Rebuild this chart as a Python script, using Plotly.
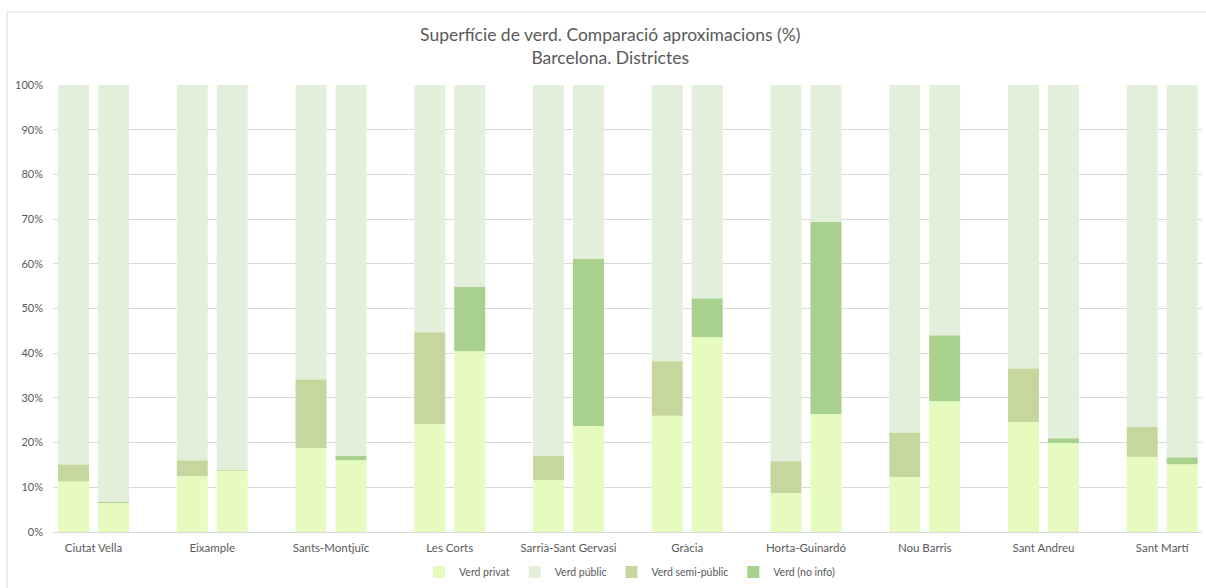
import plotly.graph_objects as go

districts = ["Ciutat Vella", "Eixample", "Sants-Montjuïc", "Les Corts", "Sarrià-Sant Gervasi",
             "Gràcia", "Horta-Guinardó", "Nou Barris", "Sant Andreu", "Sant Martí"]

# Aproximació 1 (privat + semi-públic + públic), %
privat_1 = [11.3, 12.5, 18.8, 24.1, 11.6, 26.0, 8.7, 12.3, 24.6, 16.8]
semi_1 = [3.8, 3.5, 15.3, 20.6, 5.4, 12.2, 7.1, 9.9, 12.0, 6.7]
public_1 = [84.9, 84.0, 65.9, 55.3, 83.0, 61.8, 84.2, 77.8, 63.4, 76.5]

# Aproximació 2 (privat + no info + públic), %
privat_2 = [6.5, 13.7, 16.0, 40.4, 23.7, 43.6, 26.4, 29.2, 19.9, 15.1]
noinfo_2 = [0.2, 0.1, 1.0, 14.4, 37.4, 8.7, 43.0, 14.8, 1.1, 1.6]
public_2 = [93.3, 86.2, 83.0, 45.2, 38.9, 47.7, 30.6, 56.0, 79.0, 83.3]

y_ticks = [0, 10, 20, 30, 40, 50, 60, 70, 80, 90, 100]

C_PRIVAT = "#E6FBBE"
C_PUBLIC = "#E2EFDA"
C_SEMI = "#C6D79E"
C_NOINFO = "#A9D18E"

FONT = "Lato"
TXT = "#595959"


def add(a, b):
    return [x + y for x, y in zip(a, b)]


zero = [0.0] * len(districts)
# stacking bases (bottom: privat, middle: semi / no info, top: públic)
base_semi_1 = privat_1
base_public_1 = add(privat_1, semi_1)
base_noinfo_2 = privat_2
base_public_2 = add(privat_2, noinfo_2)

# (name, values, base, colour, group, showlegend) in legend order
segments = [
    ("Verd privat", privat_1, zero, C_PRIVAT, "a1", True),
    ("Verd públic", public_1, base_public_1, C_PUBLIC, "a1", True),
    ("Verd semi-públic", semi_1, base_semi_1, C_SEMI, "a1", True),
    ("Verd (no info)", noinfo_2, base_noinfo_2, C_NOINFO, "a2", True),
    ("Verd privat", privat_2, zero, C_PRIVAT, "a2", False),
    ("Verd públic", public_2, base_public_2, C_PUBLIC, "a2", False),
]

fig = go.Figure()
for name, vals, base, color, group, show in segments:
    fig.add_trace(go.Bar(
        x=districts, y=vals, base=base, name=name,
        marker=dict(color=color, line=dict(width=0)),
        offsetgroup=group, showlegend=show,
    ))

fig.update_layout(
    width=1206, height=588,
    margin=dict(l=53, r=4, t=85, b=56),
    paper_bgcolor="white", plot_bgcolor="white",
    barmode="group", bargap=0.327, bargroupgap=0.225,
    font=dict(family=FONT, color=TXT, size=11),
    title=dict(
        text="Superfície de verd. Comparació aproximacions (%)<br>Barcelona. Districtes",
        x=0.506, xanchor="center", xref="container",
        y=0.930, yanchor="middle", yref="container",
        font=dict(family=FONT, size=17.5, color=TXT),
    ),
    legend=dict(
        orientation="h", x=0.522, xanchor="center", xref="container",
        y=1 - 572 / 588, yanchor="middle", yref="container",
        font=dict(family=FONT, size=10.5, color=TXT),
    ),
    showlegend=True,
)

fig.update_xaxes(
    range=[-0.341, 9.335], showgrid=False, showline=True, linecolor="#D9D9D9",
    linewidth=1, ticks="", tickfont=dict(size=11.5, color=TXT), ticklabelstandoff=5,
)
fig.update_yaxes(
    range=[0, 100], tickvals=y_ticks, ticktext=[f"{v}%" for v in y_ticks],
    showgrid=True, gridcolor="#D9D9D9", gridwidth=1, zeroline=False,
    showline=False, ticks="", tickfont=dict(size=11, color=TXT), ticklabelstandoff=9,
)

# chart frame
fig.add_shape(type="rect", xref="paper", yref="paper",
              x0=(7 - 53) / 1149, x1=1.01, y0=-0.2, y1=(532 - 12) / 447,
              line=dict(color="#D9D9D9", width=1), fillcolor="rgba(0,0,0,0)", layer="below")

fig.write_html("out.html", post_script="document.body.style.margin='0';",
               config={"displayModeBar": False})
